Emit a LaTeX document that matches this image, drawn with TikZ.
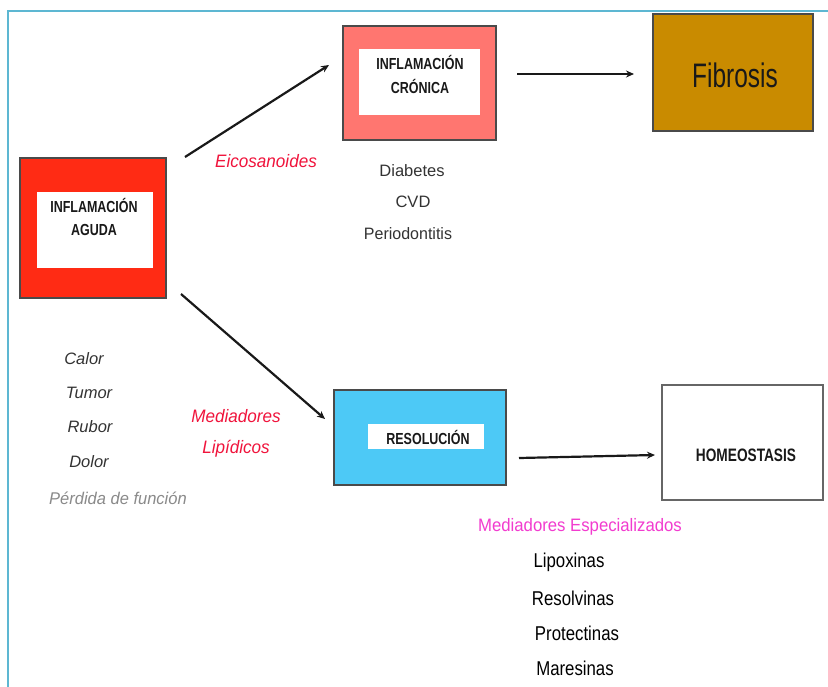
\documentclass[tikz,border=0pt]{standalone}
\usepackage{fontspec}
\setmainfont{Liberation Sans}
\usepackage{graphicx}
\usetikzlibrary{arrows.meta}
\definecolor{framec}{HTML}{5DB7D2}
\definecolor{redc}{HTML}{FF2B14}
\definecolor{pinkc}{HTML}{FF7670}
\definecolor{goldc}{HTML}{C98B00}
\definecolor{bluec}{HTML}{4DC9F6}
\definecolor{edgec}{HTML}{4A4A4A}
\definecolor{txtc}{HTML}{333333}
\definecolor{redtxt}{HTML}{F0143C}
\definecolor{magc}{HTML}{F23CCF}
\definecolor{graytxt}{HTML}{8A8A8A}
\newcommand{\nar}[1]{\scalebox{0.78}[1]{#1}}
\begin{document}
\begin{tikzpicture}[x=1pt,y=-1pt,
  boxc/.style={draw=edgec, line width=1.1pt, rectangle, inner sep=0pt},
  innerw/.style={fill=white, rectangle, inner sep=0pt},
  boxlab/.style={font=\fontsize{16}{23}\selectfont\bfseries, text=black!90, align=center, inner sep=0pt},
  listt/.style={font=\fontsize{16.5}{19}\selectfont, text=txtc, inner sep=0pt},
  itt/.style={font=\fontsize{16.5}{19}\selectfont\itshape, text=txtc, inner sep=0pt},
  redl/.style={font=\fontsize{18}{31}\selectfont\itshape, text=redtxt, align=center, inner sep=0pt},
  blk/.style={font=\fontsize{20}{22}\selectfont, text=black, inner sep=0pt},
  arr/.style={draw=black!90, line width=2.2pt, -{Stealth[length=8pt,width=7pt]}}]
\useasboundingbox (0,0) rectangle (828,686);
\fill[white] (0,0) rectangle (828,686);
\draw[framec, line width=2.5pt] (8,690) -- (8,11) -- (830,11);

% boxes
\node[boxc, fill=redc, minimum width=146pt, minimum height=140pt] (aguda) at (93,228) {};
\node[innerw, minimum width=116pt, minimum height=76pt] (agudaw) at (95,230) {};
\node[boxlab] (agudat) at (94,217) {\nar{INFLAMACIÓN}\\\nar{AGUDA}};

\node[boxc, fill=pinkc, minimum width=153pt, minimum height=114pt] (cronica) at (419.5,83) {};
\node[innerw, minimum width=121pt, minimum height=66pt] (cronicaw) at (419.5,82) {};
\node[boxlab, font=\fontsize{16}{24}\selectfont\bfseries] (cronicat) at (420,74) {\nar{INFLAMACIÓN}\\\nar{CRÓNICA}};

\node[boxc, fill=goldc, minimum width=160pt, minimum height=117pt] (fib) at (733,72.5) {};
\node[font=\fontsize{34}{34}\selectfont, text=black!90, inner sep=0pt] (fibt) at (735,75) {\scalebox{0.72}[1]{Fibrosis}};

\node[boxc, fill=bluec, minimum width=172pt, minimum height=95pt] (resol) at (420,437.5) {};
\node[innerw, minimum width=116pt, minimum height=25pt] (resolw) at (426,436.5) {};
\node[boxlab] (resolt) at (428,437) {\nar{RESOLUCIÓN}};

\node[boxc, draw=black!60, fill=white, minimum width=161pt, minimum height=115pt] (homeo) at (742.5,442.5) {};
\node[boxlab, font=\fontsize{18}{20}\selectfont\bfseries] (homeot) at (746,455) {\scalebox{0.76}[1]{HOMEOSTASIS}};

% arrows
\coordinate (a1s) at (185,157);
\coordinate (a1e) at (329,65);
\coordinate (a2s) at (181,294);
\coordinate (a2e) at (325,419);
\coordinate (a3s) at (517,74);
\coordinate (a3e) at (634,74);
\coordinate (a4s) at (519,458);
\coordinate (a4e) at (655,455);
\draw[arr] (a1s) -- (a1e);
\draw[arr] (a2s) -- (a2e);
\draw[arr] (a3s) -- (a3e);
\draw[arr] (a4s) -- (a4e);

% labels
\node[redl] (eico) at (266,161) {\scalebox{0.95}[1]{Eicosanoides}};
\node[redl] (medl) at (236,433) {\scalebox{0.95}[1]{Mediadores}\\\scalebox{0.95}[1]{Lipídicos}};

\node[listt] (diab) at (412,171) {Diabetes};
\node[listt] (cvd) at (413,202) {CVD};
\node[listt] (perio) at (408,234) {\scalebox{0.97}[1]{Periodontitis}};

\node[itt] (calor) at (84,359) {Calor};
\node[itt] (tumor) at (89,393) {Tumor};
\node[itt] (rubor) at (90,427) {Rubor};
\node[itt] (dolor) at (89,462) {Dolor};
\node[itt, text=graytxt, font=\fontsize{17}{19}\selectfont\itshape] (perd) at (118,498) {\scalebox{0.97}[1]{Pérdida de función}};

\node[font=\fontsize{18}{20}\selectfont, text=magc, inner sep=0pt] (mesp) at (580,527) {\scalebox{0.93}[1]{Mediadores Especializados}};
\node[blk] (lipo) at (569,562) {\scalebox{0.84}[1]{Lipoxinas}};
\node[blk] (reso) at (573,598) {\scalebox{0.84}[1]{Resolvinas}};
\node[blk] (prot) at (577,633) {\scalebox{0.84}[1]{Protectinas}};
\node[blk] (mare) at (575,668) {\scalebox{0.84}[1]{Maresinas}};
\end{tikzpicture}
\end{document}
